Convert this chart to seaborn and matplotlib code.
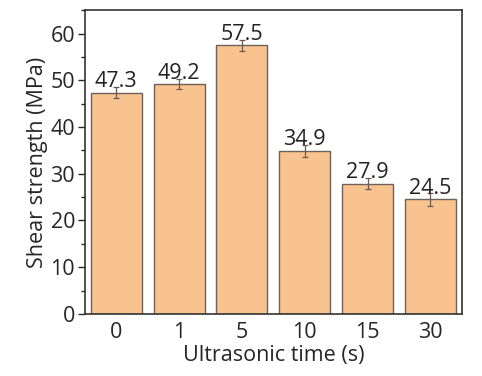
import matplotlib
matplotlib.use("Agg")
import matplotlib.pyplot as plt
import seaborn as sns
import pandas as pd
import numpy as np
from matplotlib.ticker import MultipleLocator

times = ['0', '1', '5', '10', '15', '30']
strength = [47.3, 49.2, 57.5, 34.9, 27.9, 24.5]
err = [1.2, 1.1, 1.2, 1.3, 1.2, 1.3]

df = pd.DataFrame({'time': times, 'strength': strength})

sns.set_style("white")
plt.rcParams['font.family'] = ['Open Sans', 'DejaVu Sans']

fig = plt.figure(figsize=(4.82, 3.76), dpi=100)
ax = fig.add_axes([0.176, 0.165, 0.782, 0.808])

sns.barplot(data=df, x='time', y='strength', order=times, color='#F9C38F',
            saturation=1, width=0.81, edgecolor='#6e6258', linewidth=1.0,
            errorbar=None, ax=ax)
ax.errorbar(np.arange(len(times)), strength, yerr=err, fmt='none',
            ecolor='#6b5a50', elinewidth=0.9, capsize=2.5, capthick=0.9)

for i, v in enumerate(strength):
    ax.text(i, v + 0.1, f'{v}', ha='center', va='bottom', fontsize=15.5, color='#222222')

ax.set_ylim(0, 65)
ax.set_xlim(-0.5, 5.5)
ax.yaxis.set_major_locator(MultipleLocator(10))
ax.yaxis.set_minor_locator(MultipleLocator(5))
ax.tick_params(axis='y', which='major', direction='out', length=5, width=1, labelsize=15.5, left=True, pad=2)
ax.tick_params(axis='y', which='minor', direction='out', length=3, width=1, left=True)
ax.tick_params(axis='x', length=0, labelsize=15.5, pad=6)
ax.set_xlabel('Ultrasonic time (s)', fontsize=15.5, labelpad=1)
ax.set_ylabel('Shear strength (MPa)', fontsize=15.5, labelpad=2)
for s in ax.spines.values():
    s.set_color('#333333')
    s.set_linewidth(1.2)

fig.savefig('out.png', dpi=100)
